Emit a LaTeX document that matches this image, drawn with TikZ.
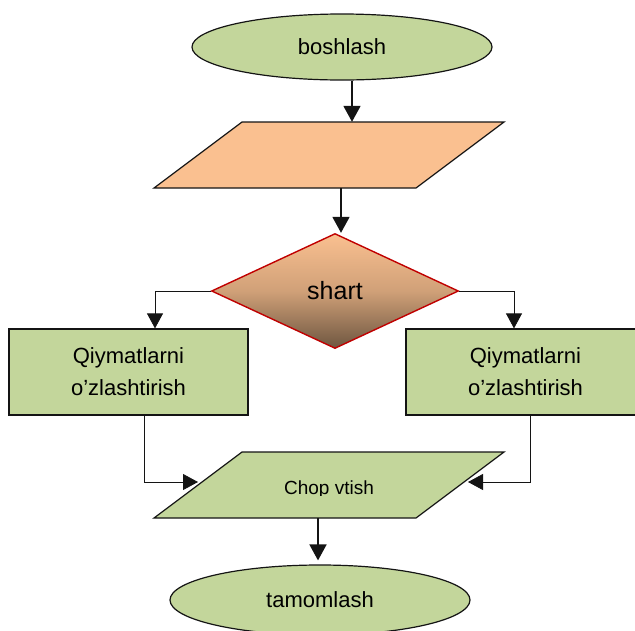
\documentclass[tikz,border=0pt]{standalone}
\usepackage{fontspec}
\setmainfont{Liberation Sans}
\usetikzlibrary{arrows.meta,positioning,shapes.geometric,calc}
\definecolor{leafgreen}{RGB}{195,214,155}
\definecolor{peach}{RGB}{250,192,144}
\definecolor{cocoa}{RGB}{110,86,64}
\definecolor{redline}{RGB}{192,0,0}
\definecolor{ink}{RGB}{20,20,20}

\tikzset{
  term/.style={ellipse, draw=ink, line width=1.2pt, fill=leafgreen,
    minimum width=300pt, minimum height=66pt, inner sep=0pt,
    font=\fontsize{22}{25}\selectfont},
  iobox/.style={rectangle, minimum width=262pt, minimum height=66pt, inner sep=0pt},
  ioline/.style={draw=ink, line width=1.2pt},
  procbox/.style={rectangle, draw=ink, line width=1.2pt, fill=leafgreen,
    minimum width=239pt, minimum height=86pt, align=center,
    font=\fontsize{22}{32}\selectfont},
  cond/.style={diamond, draw=redline, line width=1.4pt,
    top color=peach, bottom color=cocoa, middle color=peach!70!cocoa,
    minimum width=247pt, minimum height=115pt, inner sep=0pt,
    font=\fontsize{25}{28}\selectfont},
  flow/.style={-{Triangle[length=16pt,width=17pt]}, line width=1.8pt, ink},
  side/.style={-{Triangle[length=15pt,width=16pt]}, line width=0.8pt, ink}
}
% slanted input/output box round a named node
\newcommand{\slantbox}[2]{%
  \draw[ioline, fill=#2] ($(#1.center)+(-87,-33)$) -- ($(#1.center)+(175,-33)$)
    -- ($(#1.center)+(87,33)$) -- ($(#1.center)+(-175,33)$) -- cycle;}

\begin{document}
\begin{tikzpicture}[x=1pt,y=-1pt]
  \useasboundingbox (0,0) rectangle (635,630);

  % shapes
  \node[term] (boshlash) at (342,47) {boshlash};
  \node[iobox] (kirit) at (329,155) {};
  \slantbox{kirit}{peach}
  \node[cond] (shart) at (335,291) {shart};
  \node[procbox] (chap) at (128.5,372) {Qiymatlarni\\o’zlashtirish};
  \node[procbox] (ong) at (525.5,372) {Qiymatlarni\\o’zlashtirish};
  \node[iobox] (chop) at (329,485) {};
  \slantbox{chop}{leafgreen}
  \begin{scope}
    \clip (150,440) rectangle (510,495.5);
    \node[anchor=base, inner sep=0pt, font=\fontsize{19}{22}\selectfont]
      (chopmatn) at (329,494) {Chop vtish};
  \end{scope}
  \node[term, minimum height=70pt] (tamom) at (320,600) {tamomlash};

  % connectors
  \draw[flow] ([xshift=10pt]boshlash.south) -- ([xshift=10pt]boshlash.south |- kirit.north);
  \draw[flow] ([xshift=12pt]kirit.south) -- ([xshift=12pt]kirit.south |- shart.north);
  \draw[side] (shart.west) -| ([xshift=26.5pt]chap.north);
  \draw[side] (shart.east) -| ([xshift=-11.5pt]ong.north);
  \draw[side] ([xshift=15.5pt]chap.south) |- ([xshift=-131pt,yshift=3pt]chop.center);
  \draw[side] ([xshift=4.5pt]ong.south) |- ([xshift=139pt,yshift=3pt]chop.center);
  \draw[flow, shorten >=4pt] ([xshift=-2pt]chop.south -| tamom) -- ([xshift=-2pt]tamom.north);
\end{tikzpicture}
\end{document}
